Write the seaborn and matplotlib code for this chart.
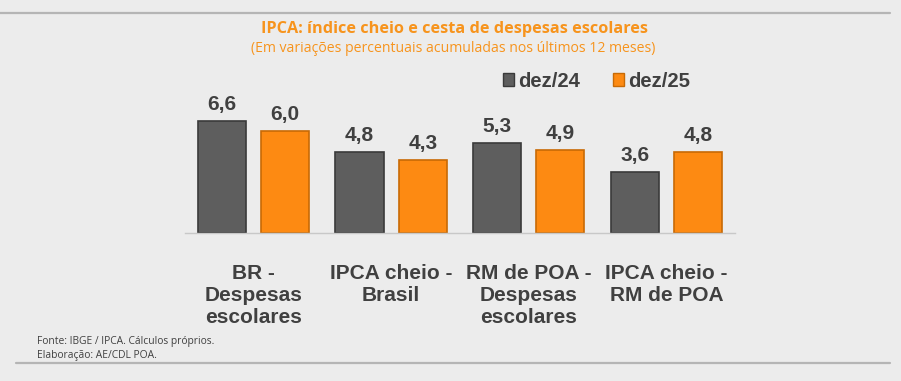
import pandas as pd
import seaborn as sns
import matplotlib.pyplot as plt

# dados
categorias = ["BR -\nDespesas\nescolares", "IPCA cheio -\nBrasil",
              "RM de POA -\nDespesas\nescolares", "IPCA cheio -\nRM de POA"]
series = ["dez/24", "dez/25"]
dez24 = [6.6, 4.8, 5.3, 3.6]
dez25 = [6.0, 4.3, 4.9, 4.8]

df = pd.DataFrame({
    "categoria": categorias * 2,
    "periodo": [series[0]] * 4 + [series[1]] * 4,
    "valor": dez24 + dez25,
})

sns.set_theme(style="white")
plt.rcParams["font.family"] = ["Liberation Sans", "DejaVu Sans"]

bg = "#ececec"
cores = {"dez/24": "#5e5e5e", "dez/25": "#fd8a12"}
bordas = {"dez/24": "#3a3a3a", "dez/25": "#c86a05"}
texto = "#404040"

fig = plt.figure(figsize=(9.01, 3.81), dpi=100, facecolor=bg)
ax = fig.add_axes([0.205, 0.388, 0.611, 0.357])
ax.set_facecolor(bg)

sns.barplot(data=df, x="categoria", y="valor", hue="periodo", palette=cores,
            saturation=1, width=0.92, gap=0.24, linewidth=1.2,
            legend=False, ax=ax)

for bars, s in zip(ax.containers, series):
    for p in bars:
        p.set_edgecolor(bordas[s])
    ax.bar_label(bars, labels=[f"{v:.1f}".replace(".", ",") for v in bars.datavalues],
                 padding=5, fontsize=15, fontweight="bold", color=texto)

ax.set_ylim(0, 8)
ax.set_xlim(-0.5, 3.5)
ax.set_yticks([])
ax.set_xlabel("")
ax.set_ylabel("")
for s in ["top", "right", "left"]:
    ax.spines[s].set_visible(False)
ax.spines["bottom"].set_color("#c8c8c8")
ax.spines["bottom"].set_linewidth(1)
ax.tick_params(axis="x", length=0, pad=22)
for lbl in ax.get_xticklabels():
    lbl.set_fontsize(15)
    lbl.set_fontweight("bold")
    lbl.set_color(texto)
    lbl.set_linespacing(1.22)
    lbl.set_verticalalignment("top")

# legenda
handles = [plt.Rectangle((0, 0), 1, 1, facecolor=cores[s], edgecolor=bordas[s]) for s in series]
leg = fig.legend(handles, series, loc="center", bbox_to_anchor=(0.662, 0.787), ncol=2,
                 frameon=False, handlelength=0.55, handleheight=0.55, handletextpad=0.2,
                 columnspacing=1.6, prop={"weight": "bold", "size": 14.6})
for t in leg.get_texts():
    t.set_color(texto)

# títulos
fig.text(0.504, 0.913, "IPCA: índice cheio e cesta de despesas escolares",
         ha="center", va="baseline", fontsize=11.7, fontweight="bold",
         color="#f7941d", family=["Open Sans", "DejaVu Sans"])
fig.text(0.503, 0.863, "(Em variações percentuais acumuladas nos últimos 12 meses)",
         ha="center", va="baseline", fontsize=10.05, color="#f7941d",
         family=["Open Sans", "DejaVu Sans"])

# fonte
fig.text(0.041, 0.085, "Fonte: IBGE / IPCA. Cálculos próprios.\nElaboração: AE/CDL POA.",
         ha="left", va="center", fontsize=7.4, color=texto, linespacing=1.35,
         family=["Open Sans", "DejaVu Sans"])

# linhas de moldura
fig.add_artist(plt.Line2D([0.0, 0.988], [0.966, 0.966], color="#b5b5b5", lw=1.6))
fig.add_artist(plt.Line2D([0.018, 0.988], [0.047, 0.047], color="#b5b5b5", lw=1.6))

fig.savefig("out.png", dpi=100, facecolor=bg)
